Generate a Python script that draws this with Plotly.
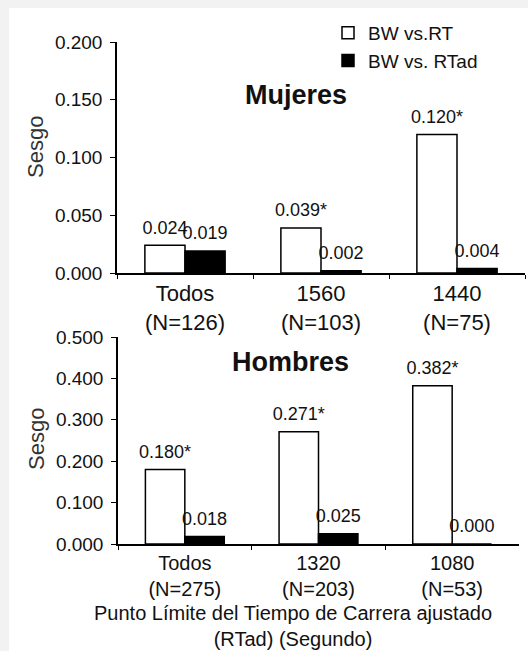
import plotly.graph_objects as go

# ---- data ----
cats_women = ["Todos<br>(N=126)", "1560<br>(N=103)", "1440<br>(N=75)"]
women_rt = [0.024, 0.039, 0.120]
women_rt_sig = [False, True, True]
women_rtad = [0.019, 0.002, 0.004]
women_rtad_sig = [False, False, False]

cats_men = ["Todos<br>(N=275)", "1320<br>(N=203)", "1080<br>(N=53)"]
men_rt = [0.180, 0.271, 0.382]
men_rt_sig = [True, True, True]
men_rtad = [0.018, 0.025, 0.000]
men_rtad_sig = [False, False, False]

series_names = ["BW vs.RT", "BW vs. RTad"]
women_ticks = [0, 0.05, 0.10, 0.15, 0.20]
men_ticks = [0, 0.1, 0.2, 0.3, 0.4, 0.5]

W, H = 528, 651
FONT = "Liberation Sans, Arial, sans-serif"
TXT = "#111111"
BG = "#f2f2f2"


def labels(vals, sig):
    return [f"{v:.3f}" + ("*" if s else "") for v, s in zip(vals, sig)]


def px_x(p):
    return p / W


def px_y(p):
    return 1 - p / H


fig = go.Figure()

styles = [dict(color="white", line=dict(color="black", width=1.5)),
          dict(color="black", line=dict(color="black", width=1.5))]

panels = [
    (cats_women, [women_rt, women_rtad], [women_rt_sig, women_rtad_sig], "x", "y", True),
    (cats_men, [men_rt, men_rtad], [men_rt_sig, men_rtad_sig], "x2", "y2", False),
]
for cats, vals_list, sig_list, xa, ya, show in panels:
    for i, (vals, sig) in enumerate(zip(vals_list, sig_list)):
        fig.add_trace(go.Bar(
            x=cats, y=vals, name=series_names[i],
            marker=styles[i], offsetgroup=str(i),
            xaxis=xa, yaxis=ya, showlegend=show, legendgroup=str(i),
            hoverinfo="skip",
        ))
    for i, (vals, sig) in enumerate(zip(vals_list, sig_list)):
        fig.add_trace(go.Scatter(
            x=cats, y=vals, mode="markers+text", offsetgroup=str(i),
            marker=dict(size=10, opacity=0),
            text=labels(vals, sig), textposition="top center",
            textfont=dict(family=FONT, size=18, color=TXT),
            cliponaxis=False, xaxis=xa, yaxis=ya, showlegend=False,
            hoverinfo="skip",
        ))

common_x = dict(showline=True, linecolor="black", linewidth=1.5, ticks="outside",
                tickson="boundaries", ticklen=4, tickcolor="black", showgrid=False,
                zeroline=False, type="category", fixedrange=True, automargin=False)
common_y = dict(showline=True, linecolor="black", linewidth=1.5, ticks="outside",
                ticklen=5, tickcolor="black", showgrid=False, zeroline=False,
                tickformat=".3f", ticklabelstandoff=4, fixedrange=True, automargin=False,
                tickfont=dict(family=FONT, size=19, color=TXT))

ann_common = dict(xref="paper", yref="paper", showarrow=False,
                  xanchor="center", yanchor="middle")

fig.update_layout(
    width=W, height=H, autosize=False,
    margin=dict(l=0, r=0, t=0, b=0, pad=0, autoexpand=False),
    paper_bgcolor=BG, plot_bgcolor="rgba(0,0,0,0)",
    barmode="group", bargap=0.41, bargroupgap=0,
    scattermode="group", scattergap=0.41,
    font=dict(family=FONT, color=TXT),
    xaxis=dict(domain=[px_x(117), px_x(525)], anchor="y",
               tickfont=dict(family=FONT, size=22, color=TXT), **common_x),
    yaxis=dict(domain=[px_y(273), px_y(42)], anchor="x", range=[0, 0.2],
               tickvals=women_ticks, **common_y),
    xaxis2=dict(domain=[px_x(118), px_x(519)], anchor="y2",
                tickfont=dict(family=FONT, size=20, color=TXT), **common_x),
    yaxis2=dict(domain=[px_y(544), px_y(337)], anchor="x2", range=[0, 0.5],
                tickvals=men_ticks, **common_y),
    legend=dict(x=px_x(328), y=px_y(14), xanchor="left", yanchor="top",
                bgcolor="rgba(0,0,0,0)", font=dict(family=FONT, size=19, color=TXT),
                tracegroupgap=0, itemclick=False, itemdoubleclick=False),
    shapes=[dict(type="rect", xref="paper", yref="paper", x0=px_x(9), x1=1,
                 y0=0, y1=px_y(8), fillcolor="white", line=dict(width=0), layer="below")],
    annotations=[
        dict(text="<b>Mujeres</b>", x=px_x(296), y=px_y(95),
             font=dict(family=FONT, size=27, color=TXT), **ann_common),
        dict(text="<b>Hombres</b>", x=px_x(290), y=px_y(362),
             font=dict(family=FONT, size=27, color=TXT), **ann_common),
        dict(text="Sesgo", x=px_x(35), y=px_y(147), textangle=-90,
             font=dict(family=FONT, size=22, color="#333"), **ann_common),
        dict(text="Sesgo", x=px_x(36), y=px_y(439), textangle=-90,
             font=dict(family=FONT, size=22, color="#333"), **ann_common),
        dict(text="Punto Límite del Tiempo de Carrera ajustado<br>(RTad) (Segundo)",
             x=px_x(293), y=px_y(626),
             font=dict(family=FONT, size=20, color=TXT), **ann_common),
    ],
)

fig.write_html(
    "out.html",
    config={"displayModeBar": False, "staticPlot": False},
    post_script=(
        "document.body.style.margin='0';"
        f"document.body.style.background='{BG}';"
        "document.documentElement.style.overflow='hidden';"
    ),
)
